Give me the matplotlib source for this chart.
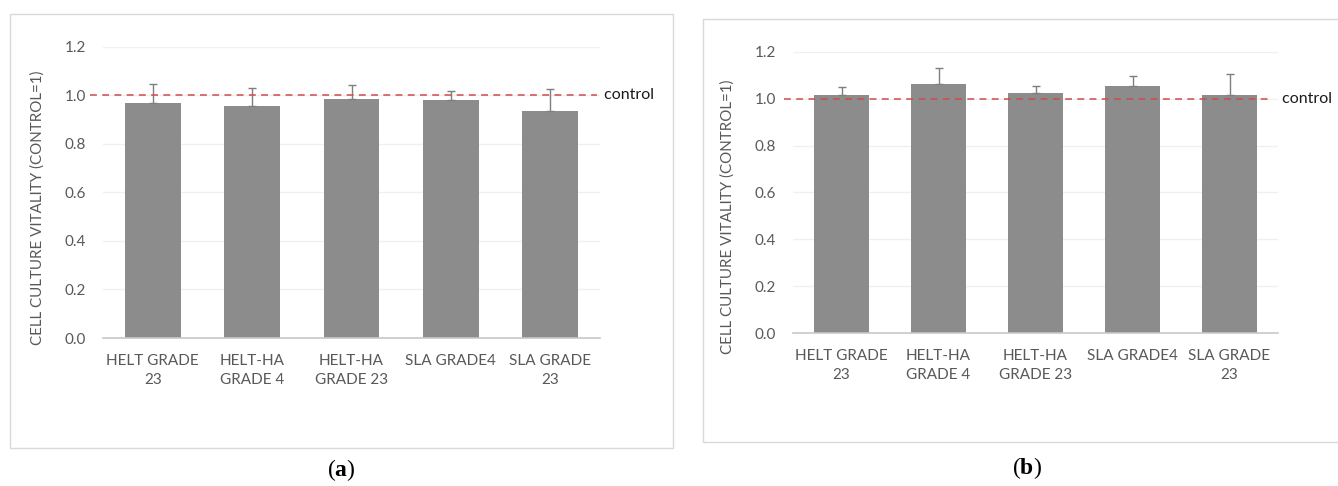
import numpy as np
from matplotlib import pyplot as plt
from matplotlib.patches import Rectangle

plt.rcParams['font.family'] = ['Lato', 'DejaVu Sans']
plt.rcParams['mathtext.fontset'] = 'custom'
plt.rcParams['mathtext.rm'] = 'Liberation Serif'
plt.rcParams['mathtext.bf'] = 'Liberation Serif:bold'

"""
Data (read from the figure)
"""
categories = ["HELT GRADE\n23", "HELT-HA\nGRADE 4", "HELT-HA\nGRADE 23", "SLA GRADE4", "SLA GRADE\n23"]
vitality_a = [0.969, 0.956, 0.985, 0.980, 0.936]
err_a = [0.076, 0.073, 0.057, 0.039, 0.089]
vitality_b = [1.017, 1.062, 1.025, 1.054, 1.017]
err_b = [0.031, 0.067, 0.027, 0.044, 0.089]
control = 1.0
yticks = [0.0, 0.2, 0.4, 0.6, 0.8, 1.0, 1.2]

text_col = '#595959'
bar_col = '#8c8c8c'

W, H = 1338, 486
fig = plt.figure(figsize=(W / 100, H / 100), dpi=100)

# panel frames
fig.add_artist(Rectangle((10 / W, 1 - 448 / H), 663 / W, 434 / H, transform=fig.transFigure,
                         fill=False, ec='#d9d9d9', lw=1))
fig.add_artist(Rectangle((703 / W, 1 - 442 / H), 660 / W, 423 / H, transform=fig.transFigure,
                         fill=False, ec='#d9d9d9', lw=1))


def panel(rect, vals, errs, ylab_x, ylab_y, dash_x0, dash_x1):
    ax = fig.add_axes(rect)
    x = np.arange(len(categories))
    ax.bar(x, vals, width=0.56, color=bar_col, zorder=2)
    ax.errorbar(x, vals, yerr=[np.zeros(len(errs)), errs], fmt='none', ecolor='#7f7f7f',
                elinewidth=1, capsize=3, capthick=1, zorder=3)
    ax.axhline(control, xmin=dash_x0, xmax=dash_x1, color='#cc4b4b', lw=1.1,
               linestyle=(0, (4.5, 3.5)), clip_on=False, zorder=4)
    ax.text(1.0, control, ' control', transform=ax.get_yaxis_transform(), ha='left',
            va='center', fontsize=11.5, color='#1a1a1a')
    ax.set_xlim(-0.5, len(categories) - 0.5)
    ax.set_ylim(0, 1.2)
    ax.set_yticks(yticks)
    ax.set_yticklabels(['%.1f' % t for t in yticks])
    ax.set_xticks(x)
    ax.set_xticklabels(categories, linespacing=1.45)
    ax.grid(axis='y', color='#f0f0f0', lw=1, zorder=0)
    ax.set_axisbelow(True)
    for s in ['top', 'right', 'left']:
        ax.spines[s].set_visible(False)
    ax.spines['bottom'].set_color('#c8c8c8')
    ax.spines['bottom'].set_linewidth(1.2)
    ax.tick_params(axis='y', length=0, pad=12, labelsize=11, labelcolor=text_col)
    ax.tick_params(axis='x', length=0, pad=11.5, labelsize=11, labelcolor=text_col)
    fig.text(ylab_x / W, 1 - ylab_y / H, 'CELL CULTURE VITALITY (CONTROL=1)', rotation=90,
             ha='center', va='center', fontsize=10.9, color=text_col)
    return ax


ax1 = panel([103 / W, 1 - 338 / H, 497 / W, 291.3 / H], vitality_a, err_a, 38, 208, -0.026, 0.994)
ax2 = panel([793 / W, 1 - 333.3 / H, 485 / W, 281.6 / H], vitality_b, err_b, 728, 217, -0.019, 0.986)

fig.text(341 / W, 1 - 470 / H, r'($\mathbf{a}$)', ha='center', va='center', fontsize=17,
         family='Liberation Serif', color='black')
fig.text(1027 / W, 1 - 468 / H, r'($\mathbf{b}$)', ha='center', va='center', fontsize=17,
         family='Liberation Serif', color='black')

fig.savefig('out.png', dpi=100)
